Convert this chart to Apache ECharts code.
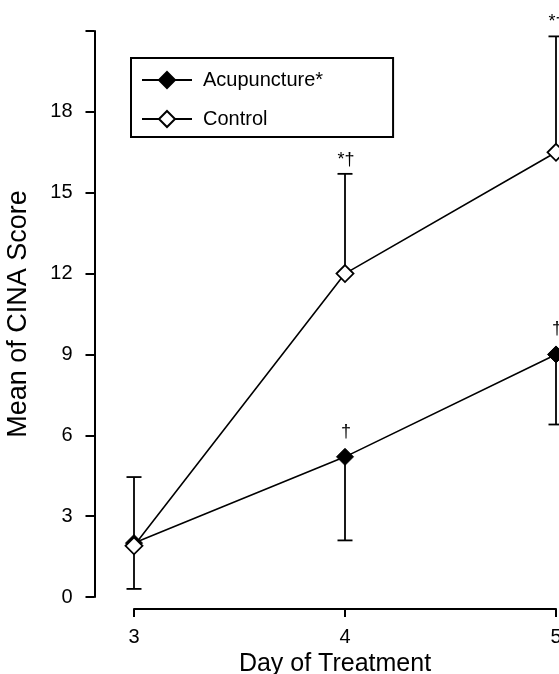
<!DOCTYPE html>
<html>
<head>
<meta charset="utf-8">
<script src="https://cdn.jsdelivr.net/npm/echarts@6/dist/echarts.min.js"></script>
<style>
html,body{margin:0;padding:0;background:#fff;}
#main{width:559px;height:674px;}
</style>
</head>
<body>
<div id="main"></div>
<script>
// Data
const days = [3, 4, 5];
const dayLabels = ['3', '4', '5'];
const acupMean = [2.0, 5.2, 9.0];
const acupErrEnd = [0.3, 2.1, 6.4];     // lower end of SD bar
const ctrlMean = [1.9, 12.0, 16.5];
const ctrlErrEnd = [4.45, 15.7, 20.8];  // upper end of SD bar
const acupMarks = ['', '\u2020', '\u2020'];
const ctrlMarks = ['', '*\u2020', '*\u2020'];
const yTicks = [0, 3, 6, 9, 12, 15, 18];

const FONT = 'Liberation Sans';

function errData(mean, end) {
  return days.map((d, i) => [d, mean[i], end[i]]);
}

function makeErr(marks) {
  return function (params, api) {
    const x = api.value(0), m = api.value(1), e = api.value(2);
    const p1 = api.coord([x, m]);
    const p2 = api.coord([x, e]);
    const half = 7.5;
    const style = { stroke: '#000', lineWidth: 1.8 };
    const children = [
      { type: 'line', shape: { x1: p1[0], y1: p1[1], x2: p2[0], y2: p2[1] }, style: style },
      { type: 'line', shape: { x1: p2[0] - half, y1: p2[1], x2: p2[0] + half, y2: p2[1] }, style: style }
    ];
    const t = marks[params.dataIndex];
    if (t) {
      const ty = e > m ? p2[1] - 14 : p1[1] - 25;
      children.push({
        type: 'text',
        style: { text: t, x: p1[0] + 1, y: ty, align: 'center', verticalAlign: 'middle',
                 fontSize: 18, fontFamily: FONT, fill: '#000' }
      });
    }
    return { type: 'group', children: children };
  };
}

const chart = echarts.init(document.getElementById('main'), null, { renderer: 'canvas' });
chart.setOption({
  animation: false,
  backgroundColor: '#fff',
  textStyle: { fontFamily: FONT, color: '#000' },
  grid: { left: 134, right: 3, top: 31, bottom: 77, containLabel: false, outerBoundsMode: 'none' },
  legend: {
    orient: 'vertical',
    left: 131, top: 58,
    borderColor: '#000', borderWidth: 2,
    padding: [12, 70, 8, 10],
    itemGap: 19,
    itemWidth: 50, itemHeight: 20,
    textStyle: { fontSize: 20, color: '#000', fontFamily: FONT, padding: [0, 0, 0, 6] },
    data: ['Acupuncture*', 'Control']
  },
  xAxis: {
    type: 'value',
    min: 3, max: 5, interval: 1,
    offset: 12,
    name: 'Day of Treatment',
    nameLocation: 'middle',
    nameGap: 42,
    nameTextStyle: { fontSize: 25, color: '#000', fontFamily: FONT, padding: [0, 20, 0, 0] },
    axisLine: { onZero: false, lineStyle: { color: '#000', width: 2 } },
    axisTick: { length: 8, lineStyle: { color: '#000', width: 2 } },
    axisLabel: { fontSize: 20, color: '#000', margin: 18, fontFamily: FONT,
                 formatter: v => dayLabels[days.indexOf(v)] || '' },
    splitLine: { show: false }
  },
  yAxis: {
    type: 'value',
    min: 0, max: 21, interval: 3,
    offset: 39.5,
    name: 'Mean of CINA Score',
    nameLocation: 'middle',
    nameGap: 62,
    nameTextStyle: { fontSize: 27, color: '#000', fontFamily: FONT },
    axisLine: { show: true, onZero: false, lineStyle: { color: '#000', width: 2 } },
    axisTick: { show: true, length: 9, lineStyle: { color: '#000', width: 2 } },
    axisLabel: { fontSize: 20, color: '#000', margin: 22, fontFamily: FONT,
                 formatter: v => yTicks.indexOf(v) >= 0 ? String(v) : '' },
    splitLine: { show: false }
  },
  series: [
    { type: 'custom', name: 'errA', data: errData(acupMean, acupErrEnd),
      renderItem: makeErr(acupMarks), z: 1, silent: true },
    { type: 'custom', name: 'errC', data: errData(ctrlMean, ctrlErrEnd),
      renderItem: makeErr(ctrlMarks), z: 1, silent: true },
    {
      type: 'line', name: 'Acupuncture*', z: 3,
      data: days.map((d, i) => [d, acupMean[i]]),
      symbol: 'diamond', symbolSize: 17, showAllSymbol: true,
      lineStyle: { color: '#000', width: 1.6 },
      itemStyle: { color: '#000', borderColor: '#000', borderWidth: 1 },
      emphasis: { disabled: true }
    },
    {
      type: 'line', name: 'Control', z: 4,
      data: days.map((d, i) => [d, ctrlMean[i]]),
      symbol: 'diamond', symbolSize: 17, showAllSymbol: true,
      lineStyle: { color: '#000', width: 1.6 },
      itemStyle: { color: '#fff', borderColor: '#000', borderWidth: 1.8 },
      emphasis: { disabled: true }
    }
  ]
});
</script>
</body>
</html>
